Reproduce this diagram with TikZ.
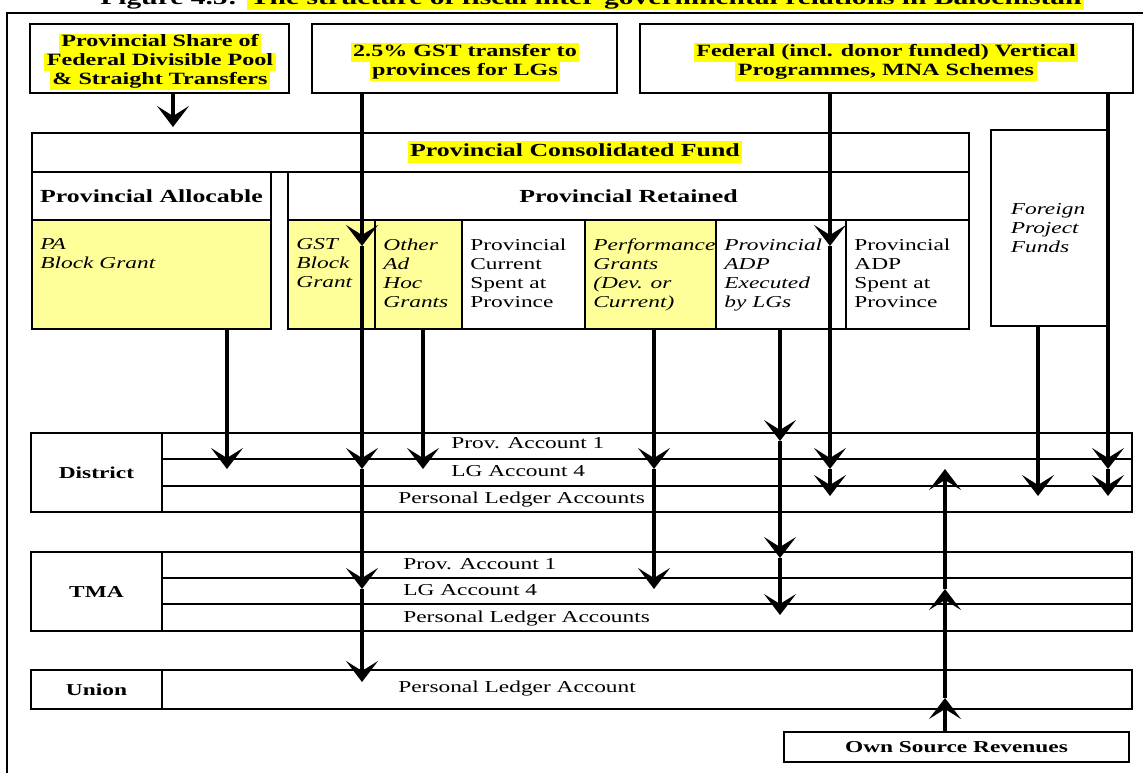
\documentclass[tikz,border=0pt]{standalone}
\usepackage{fontspec}
\setmainfont{Liberation Serif}[FakeStretch=1.4]
\usetikzlibrary{arrows.meta,positioning,fit}
\definecolor{markyellow}{RGB}{255,255,0}
\definecolor{grantyellow}{RGB}{255,255,153}
% yellow text marker, one line at a time
\newcommand{\hlt}[1]{{\setlength{\fboxsep}{0pt}\colorbox{markyellow}{\strut\kern1.5pt#1\kern1.5pt}}}
\newcommand{\cellfont}{\fontsize{9.5}{10.8}\selectfont}

\begin{document}
\begin{tikzpicture}[x=0.02cm, y=-0.02cm,
    box/.style={draw, line width=1.1pt, inner sep=0pt},
    grant/.style={box, fill=grantyellow},
    src/.style={inner sep=0pt, align=center, font=\fontsize{9.8}{10.8}\selectfont\bfseries},
    head/.style={inner sep=0pt, font=\fontsize{10.5}{12}\selectfont\bfseries},
    plain/.style={inner sep=0pt, align=left, font=\cellfont},
    ital/.style={inner sep=0pt, align=left, font=\cellfont\itshape},
    tier/.style={inner sep=0pt, font=\cellfont\bfseries},
    acct/.style={inner sep=0pt, anchor=base west, font=\cellfont},
    flow/.style={-{Stealth[length=0.42cm, width=0.64cm, inset=0.2cm]}, line width=2.8pt}]
  \useasboundingbox (0,0) rectangle (1143,773);

  % heading (cut by the top edge) and frame
  \node[anchor=base west, inner sep=0pt, font=\fontsize{12}{8}\selectfont\bfseries] (title) at (100,5)
    {Figure 4.5: \hlt{The structure of fiscal inter-governmental relations in Balochistan}};
  \draw[line width=1.1pt] (7,773) -- (7,13) -- (1143,13);

  % federal sources
  \node[box, fit={(30,24)(289,93)}] (share) {};
  \node[src] (sharetxt) at (160,62) {\hlt{Provincial Share of}\\\hlt{Federal Divisible Pool}\\\hlt{\& Straight Transfers}};
  \node[box, fit={(312,24)(617,93)}] (gsttr) {};
  \node[src] (gsttrtxt) at (465,62) {\hlt{2.5\% GST transfer to}\\\hlt{provinces for LGs}};
  \node[box, fit={(640,24)(1133,93)}] (vert) {};
  \node[src] (verttxt) at (886,62) {\hlt{Federal (incl. donor funded) Vertical}\\\hlt{Programmes, MNA Schemes}};

  % provincial consolidated fund
  \node[box, fit={(32,133)(969,172)}] (fund) {};
  \node[head] (fundtxt) at (575,152) {\hlt{Provincial Consolidated Fund}};
  \node[box, fit={(32,172)(271,220)}] (alloc) {};
  \node[head] (alloctxt) at (alloc.center) {Provincial Allocable};
  \node[box, fit={(288,172)(969,220)}] (ret) {};
  \node[head] (rettxt) at (ret.center) {Provincial Retained};

  \node[grant, fit={(32,220)(271,329)}] (pabg) {};
  \node[grant, fit={(288,220)(375,329)}] (gstbg) {};
  \node[grant, fit={(375,220)(462,329)}] (adhoc) {};
  \node[box, fit={(462,220)(585,329)}] (pcur) {};
  \node[grant, fit={(585,220)(716,329)}] (perf) {};
  \node[box, fit={(716,220)(846,329)}] (adplg) {};
  \node[box, fit={(846,220)(969,329)}] (adppr) {};
  \node[box, fit={(991,130)(1108,326)}] (fpf) {};
  \node[ital] (fpftxt) at (1048,228) {Foreign\\Project\\Funds};

  \node[ital, below right=0.39cm and 0.18cm of pabg.north west] (pabgtxt) {PA\\Block Grant};
  \node[ital, below right=0.39cm and 0.18cm of gstbg.north west] (gstbgtxt) {GST\\Block\\Grant};
  \node[ital, below right=0.39cm and 0.18cm of adhoc.north west] (adhoctxt) {Other\\Ad\\Hoc\\Grants};
  \node[plain, below right=0.39cm and 0.18cm of pcur.north west] (pcurtxt) {Provincial\\Current\\Spent at\\Province};
  \node[ital, below right=0.39cm and 0.18cm of perf.north west] (perftxt) {Performance\\Grants\\(Dev. or\\Current)};
  \node[ital, below right=0.39cm and 0.18cm of adplg.north west] (adplgtxt) {Provincial\\ADP\\Executed\\by LGs};
  \node[plain, below right=0.39cm and 0.18cm of adppr.north west] (adpprtxt) {Provincial\\ADP\\Spent at\\Province};

  % local government accounts
  \node[box, fit={(31,433)(162,512)}] (dist) {};
  \node[tier] (disttxt) at (dist.center) {District};
  \node[box, fit={(162,433)(1132,459)}] (dP1) {};
  \node[box, fit={(162,459)(1132,486)}] (dLG) {};
  \node[box, fit={(162,486)(1132,512)}] (dPL) {};
  \node[acct] (dP1txt) at (451,449) {Prov. Account 1};
  \node[acct] (dLGtxt) at (451,477) {LG Account 4};
  \node[acct] (dPLtxt) at (398,503) {Personal Ledger Accounts};

  \node[box, fit={(31,552)(162,631)}] (tma) {};
  \node[tier] (tmatxt) at (tma.center) {TMA};
  \node[box, fit={(162,552)(1132,578)}] (tP1) {};
  \node[box, fit={(162,578)(1132,604)}] (tLG) {};
  \node[box, fit={(162,604)(1132,631)}] (tPL) {};
  \node[acct] (tP1txt) at (403,569) {Prov. Account 1};
  \node[acct] (tLGtxt) at (403,595) {LG Account 4};
  \node[acct] (tPLtxt) at (403,622) {Personal Ledger Accounts};

  \node[box, fit={(31,670)(162,709)}] (union) {};
  \node[tier] (uniontxt) at (union.center) {Union};
  \node[box, fit={(162,670)(1132,709)}] (uPL) {};
  \node[acct] (uPLtxt) at (398,692) {Personal Ledger Account};

  \node[box, fit={(784,732)(1129,762)}] (osr) {};
  \node[tier] (osrtxt) at (osr.center) {Own Source Revenues};

  % flow lines
  \coordinate (xsh) at (173,0);
  \coordinate (xpa) at (227,0);
  \coordinate (xgst) at (362,0);
  \coordinate (xadh) at (423,0);
  \coordinate (xper) at (654,0);
  \coordinate (xadp) at (780,0);
  \coordinate (xfed) at (830,0);
  \coordinate (xown) at (945,0);
  \coordinate (xfpf) at (1038,0);
  \coordinate (xvert) at (1108,0);
  \coordinate (yFund) at (0,127);
  \coordinate (yCell) at (0,246);
  \coordinate (yDP1) at (0,441);
  \coordinate (yDLG) at (0,469);
  \coordinate (yDPL) at (0,496);
  \coordinate (yTP1) at (0,558);
  \coordinate (yTLG) at (0,589);
  \coordinate (yTPL) at (0,615);
  \coordinate (yUin) at (0,682);
  \coordinate (yUup) at (0,698);

  \draw[flow] (xsh |- share.south) -- (xsh |- yFund);
  \draw[flow] (xgst |- gsttr.south) -- (xgst |- yCell);
  \draw[flow] (xgst |- yCell) -- (xgst |- yDLG);
  \draw[flow] (xgst |- yDLG) -- (xgst |- yTLG);
  \draw[flow] (xgst |- yTLG) -- (xgst |- yUin);
  \draw[flow] (xpa |- pabg.south) -- (xpa |- yDLG);
  \draw[flow] (xadh |- adhoc.south) -- (xadh |- yDLG);
  \draw[flow] (xper |- perf.south) -- (xper |- yDLG);
  \draw[flow] (xper |- yDLG) -- (xper |- yTLG);
  \draw[flow] (xadp |- adplg.south) -- (xadp |- yDP1);
  \draw[flow] (xadp |- yDP1) -- (xadp |- yTP1);
  \draw[flow] (xadp |- yTP1) -- (xadp |- yTPL);
  \draw[flow] (xfed |- vert.south) -- (xfed |- yCell);
  \draw[flow] (xfed |- yCell) -- (xfed |- yDLG);
  \draw[flow] (xfed |- yDLG) -- (xfed |- yDPL);
  \draw[flow] (xvert |- vert.south) -- (xvert |- yDLG);
  \draw[flow] (xvert |- yDLG) -- (xvert |- yDPL);
  \draw[flow] (xfpf |- fpf.south) -- (xfpf |- yDPL);
  \draw[flow] (xown |- osr.north) -- (xown |- yUup);
  \draw[flow] (xown |- yUup) -- (xown |- yTLG);
  \draw[flow] (xown |- yTLG) -- (xown |- yDLG);
\end{tikzpicture}
\end{document}
